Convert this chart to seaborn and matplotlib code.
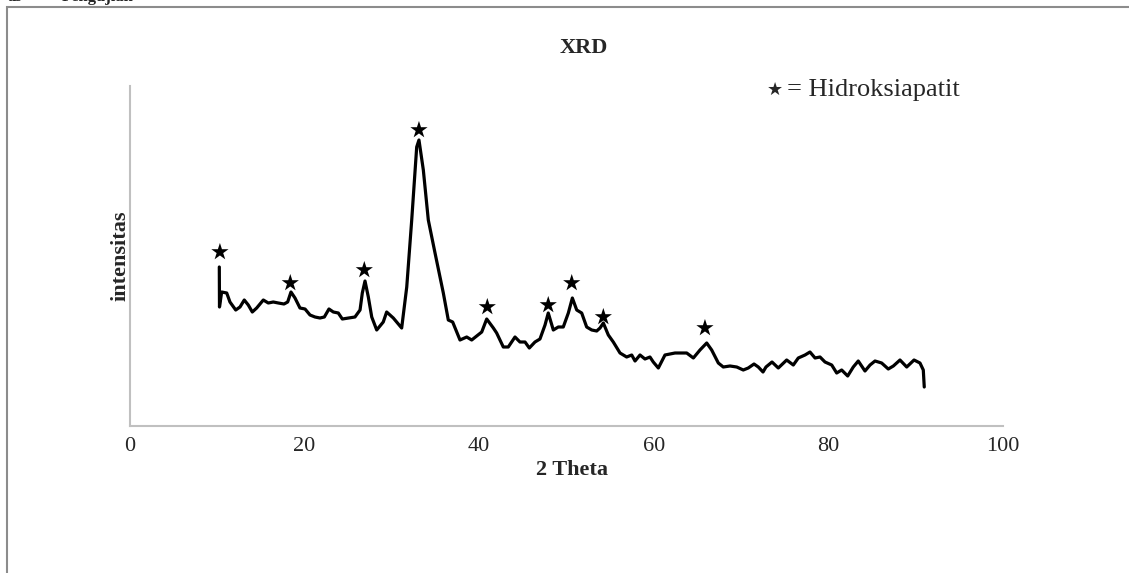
import matplotlib
matplotlib.use("Agg")
import matplotlib.pyplot as plt
import seaborn as sns
import pandas as pd
from matplotlib.patches import Rectangle

# ─────────────────────────────────────────────
# data (2θ in degrees, intensity in arbitrary units)
# ─────────────────────────────────────────────
two_theta = [
    10.23, 10.25, 10.50, 11.08, 11.45, 12.11, 12.60, 13.09, 13.55, 14.01,
    14.51, 15.27, 15.84, 16.41, 16.99, 17.64, 18.06, 18.44, 18.90, 19.47,
    20.05, 20.62, 21.19, 21.76, 22.26, 22.79, 23.29, 23.86, 24.32, 25.01,
    25.77, 26.35, 26.61, 26.92, 27.30, 27.69, 28.26, 29.01, 29.40, 30.16,
    31.12, 31.70, 32.27, 32.84, 33.10, 33.60, 34.17, 34.94, 35.89, 36.46,
    36.96, 37.80, 38.57, 39.14, 39.71, 40.29, 40.86, 41.62, 42.00, 42.76,
    43.33, 44.10, 44.67, 45.25, 45.74, 46.39, 46.96, 47.54, 47.91, 48.49,
    49.06, 49.63, 50.21, 50.67, 51.17, 51.74, 52.31, 52.89, 53.46, 53.84,
    54.22, 54.79, 55.36, 56.13, 56.89, 57.47, 57.85, 58.42, 58.99, 59.56,
    59.94, 60.52, 61.28, 61.86, 62.43, 63.00, 63.77, 64.53, 65.29, 66.06,
    66.63, 67.39, 67.96, 68.73, 69.50, 70.25, 70.82, 71.48, 71.97, 72.51,
    72.85, 73.54, 74.26, 75.22, 75.98, 76.55, 77.32, 77.89, 78.47, 79.04,
    79.61, 80.38, 80.95, 81.52, 82.21, 82.85, 83.42, 84.19, 84.77, 85.34,
    86.10, 86.86, 87.44, 88.20, 88.97, 89.81, 90.49, 90.87, 90.98,
]
intensity = [
    159, 119, 134, 133, 124, 116, 119, 126, 121, 114,
    118, 126, 123, 124, 123, 122, 124, 134, 128, 118,
    117, 111, 109, 108, 109, 117, 114, 113, 107, 108,
    109, 116, 133, 145, 129, 109, 96, 104, 114, 108,
    98, 139, 206, 279, 286, 256, 206, 173, 133, 106,
    104, 86, 89, 86, 90, 94, 107, 98, 93, 79,
    79, 89, 84, 84, 78, 84, 87, 101, 113, 96,
    99, 99, 113, 128, 116, 113, 99, 96, 95, 98,
    103, 91, 84, 73, 69, 71, 65, 71, 67, 69,
    64, 58, 71, 72, 73, 73, 73, 68, 76, 83,
    76, 63, 59, 60, 59, 56, 58, 62, 59, 54,
    59, 64, 58, 66, 61, 68, 71, 74, 68, 69,
    64, 61, 53, 56, 50, 59, 65, 55, 61, 65,
    63, 57, 60, 66, 59, 66, 63, 56, 39,
]

# hydroxyapatite peak markers (stars drawn just above the peaks)
hap_theta = [10.3, 18.36, 26.84, 33.1, 40.93, 47.91, 50.6, 54.22, 65.86]
hap_marker = [174, 143, 156, 296, 119, 121, 143, 109, 98]

x_ticks = [0, 20, 40, 60, 80, 100]

df = pd.DataFrame({"2 Theta": two_theta, "intensitas": intensity})
df_hap = pd.DataFrame({"2 Theta": hap_theta, "intensitas": hap_marker})

# ─────────────────────────────────────────────
# plotting
# ─────────────────────────────────────────────
sns.set_style("white")
plt.rcParams["font.family"] = ["Liberation Serif", "DejaVu Sans"]

fig = plt.figure(figsize=(11.29, 5.73), dpi=100)
ax = fig.add_axes([130 / 1129, 1 - 426 / 573, 873 / 1129, 340 / 573])

sns.lineplot(data=df, x="2 Theta", y="intensitas", ax=ax, color="black",
             linewidth=2.3, sort=False, estimator=None,
             solid_joinstyle="round", solid_capstyle="round")
sns.scatterplot(data=df_hap, x="2 Theta", y="intensitas", ax=ax, marker="*",
                s=170, color="black", edgecolor="none", zorder=3)

ax.set_xlim(0, 100)
ax.set_ylim(0, 340)
ax.set_xticks(x_ticks)
ax.set_xticklabels([str(t) for t in x_ticks], fontsize=16)
ax.set_yticks([])
ax.tick_params(axis="x", length=0, pad=8)

for side in ["top", "right"]:
    ax.spines[side].set_visible(False)
for side in ["left", "bottom"]:
    ax.spines[side].set_color("#c0c0c0")
    ax.spines[side].set_linewidth(1.5)

ax.set_xlabel("2 Theta", fontsize=16, fontweight="bold", labelpad=0)
ax.set_ylabel("intensitas", fontsize=16, fontweight="bold", labelpad=0)
ax.xaxis.set_label_coords((572 - 130) / 873, -(460 - 426) / 340)

fig.text(584 / 1129, 1 - 48 / 573, "XRD", fontsize=16, fontweight="bold",
         ha="center", va="center")

# text-box style key
fig.text(775 / 1129, 1 - 90 / 573, "★", family=["DejaVu Sans"], fontsize=13,
         ha="center", va="center")
fig.text(787 / 1129, 1 - 90 / 573, "= Hidroksiapatit", fontsize=19,
         ha="left", va="center")

# outer frame of the chart area (only top and left edges fall inside the crop)
fig.add_artist(Rectangle((7 / 1129, -0.1), 1.2, 1 - 7 / 573 + 0.1,
                         transform=fig.transFigure, fill=False,
                         edgecolor="#8c8c8c", linewidth=1.5, clip_on=False))

# caption text of the page, cut off by the top edge
fig.text(7 / 1129, 1 - 1 / 573, "as", fontsize=12, fontweight="bold",
         ha="left", va="baseline")
fig.text(62 / 1129, 1 - 1 / 573, "Pengujian", fontsize=12, fontweight="bold",
         ha="left", va="baseline")

fig.savefig("out.png", dpi=100)
